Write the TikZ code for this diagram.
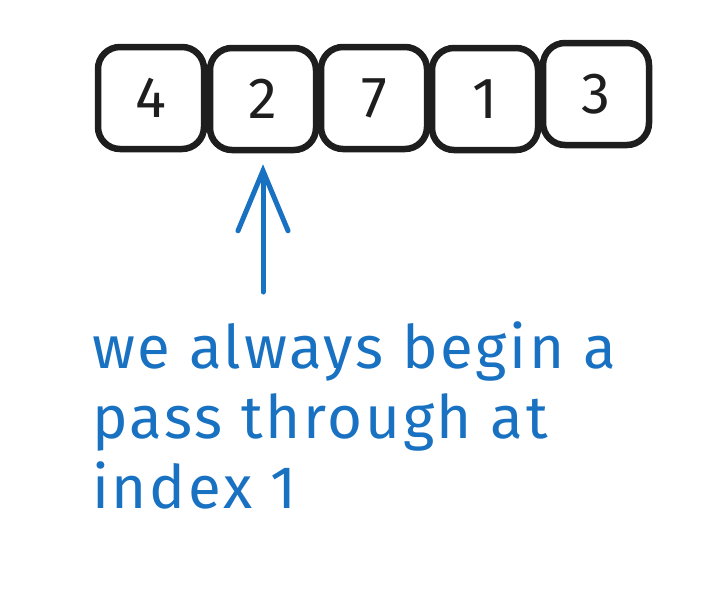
\documentclass[tikz,border=0pt]{standalone}
\usepackage{fontspec}
\setmainfont{Fira Sans}
\newfontfamily\notefont[LetterSpace=4.5]{Fira Sans}
\usetikzlibrary{arrows.meta}
\definecolor{inkblack}{HTML}{1E1E1E}
\definecolor{inkblue}{HTML}{1971C2}
\tikzset{
  cell/.style={draw=inkblack, line width=6.5pt, rounded corners=22pt,
    minimum width=106pt, minimum height=102pt, inner sep=0pt,
    text=inkblack, font=\fontsize{58}{60}\selectfont},
  pointer/.style={draw=inkblue, line width=5pt, line cap=round,
    -{Straight Barb[length=60pt,width=50pt,line cap=round]}},
  notetext/.style={text=inkblue, align=left, inner sep=0pt,
    font=\notefont\fontsize{60}{70}\selectfont}
}
\begin{document}
\begin{tikzpicture}[x=1pt,y=-1pt]
\useasboundingbox (0,0) rectangle (712,603);
\node[cell] (b1) at (151,98) {4};
\node[cell] (b2) at (263,99) {2};
\node[cell] (b3) at (374,98) {7};
\node[cell] (b4) at (485,99) {1};
\node[cell] (b5) at (596,94) {3};
\coordinate (tail) at (263,292);
\draw[pointer] (tail) -- ([yshift=-11pt]b2.south);
\node[notetext, anchor=north west] (note) at (92,321) {we always begin a\\pass through at\\index 1};
\end{tikzpicture}
\end{document}
